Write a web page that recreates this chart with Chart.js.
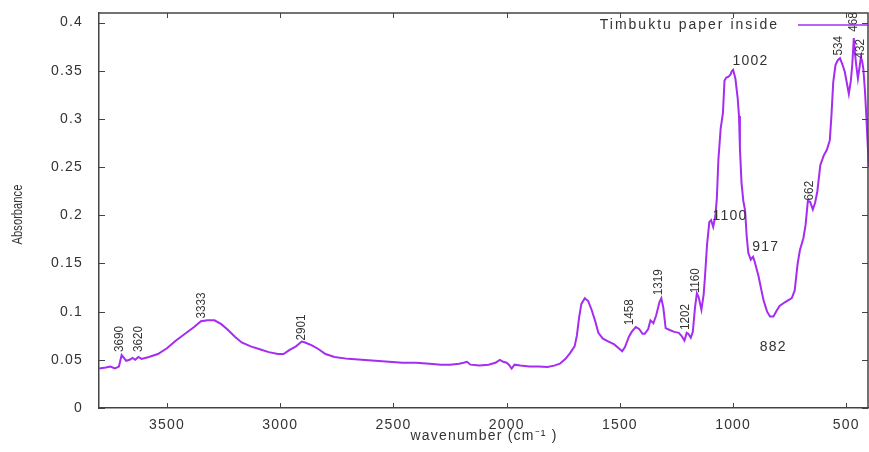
<!DOCTYPE html>
<html>
<head>
<meta charset="utf-8">
<script src="https://cdn.jsdelivr.net/npm/chart.js@4.4.1/dist/chart.umd.min.js"></script>
<style>
  html, body { margin: 0; padding: 0; background: #fff; }
  #wrap { width: 869px; height: 452px; }
</style>
</head>
<body>
<div id="wrap"><canvas id="chart"></canvas></div>
<script>
// spectrum (wavenumber cm-1 / absorbance)
const wavenumbers = [
  3800, 3770, 3750, 3730, 3712, 3700, 3690, 3680, 3665, 3652, 3640, 3626, 3612, 3580, 3540,
  3500, 3460, 3420, 3380, 3350, 3320, 3290, 3260, 3230, 3200, 3170, 3130, 3090, 3050, 3010,
  2985, 2960, 2930, 2905, 2890, 2860, 2830, 2800, 2760, 2700, 2640, 2580, 2520, 2460, 2400,
  2340, 2290, 2250, 2210, 2190, 2175, 2160, 2120, 2080, 2050, 2030, 2015, 2000, 1990, 1978,
  1965, 1940, 1900, 1860, 1820, 1790, 1765, 1740, 1720, 1700, 1690, 1680, 1670, 1655, 1640,
  1625, 1610, 1595, 1575, 1550, 1525, 1500, 1490, 1478, 1460, 1448, 1430, 1415, 1400, 1390,
  1375, 1365, 1352, 1340, 1325, 1317, 1308, 1298, 1280, 1260, 1240, 1228, 1215, 1205, 1198,
  1187, 1178, 1168, 1160, 1152, 1140, 1130, 1124, 1115, 1105, 1097, 1088, 1078, 1072, 1065,
  1055, 1045, 1038, 1030, 1020, 1012, 1005, 1000, 990, 980, 974, 970, 963, 955, 947,
  940, 933, 922, 912, 905, 888, 866, 850, 837, 822, 808, 795, 770, 741, 728,
  715, 705, 690, 680, 670, 660, 648, 638, 628, 615, 600, 586, 573, 566, 558,
  548, 538, 528, 518, 507, 496, 489, 480, 474, 467, 462, 456, 449, 441, 436,
  430, 425, 418, 412, 405, 400
];
const absorbance = [
  0.041, 0.042, 0.043, 0.041, 0.043, 0.055, 0.052, 0.049, 0.050, 0.052, 0.050, 0.053, 0.051, 0.053, 0.056,
  0.062, 0.070, 0.077, 0.084, 0.090, 0.091, 0.091, 0.087, 0.081, 0.074, 0.068, 0.064, 0.061, 0.058, 0.056,
  0.056, 0.060, 0.064, 0.069, 0.068, 0.065, 0.061, 0.056, 0.053, 0.051, 0.050, 0.049, 0.048, 0.047, 0.047,
  0.046, 0.045, 0.045, 0.046, 0.047, 0.048, 0.045, 0.044, 0.045, 0.047, 0.050, 0.048, 0.047, 0.045, 0.041,
  0.045, 0.044, 0.043, 0.043, 0.0425, 0.044, 0.046, 0.051, 0.057, 0.064, 0.075, 0.094, 0.108, 0.114, 0.111,
  0.102, 0.091, 0.078, 0.072, 0.069, 0.066, 0.061, 0.059, 0.063, 0.074, 0.079, 0.084, 0.082, 0.077, 0.077,
  0.082, 0.091, 0.088, 0.096, 0.110, 0.114, 0.104, 0.083, 0.081, 0.079, 0.078, 0.075, 0.070, 0.078, 0.077,
  0.073, 0.079, 0.105, 0.119, 0.115, 0.102, 0.118, 0.137, 0.170, 0.193, 0.195, 0.188, 0.200, 0.217, 0.258,
  0.290, 0.306, 0.340, 0.343, 0.344, 0.346, 0.350, 0.351, 0.342, 0.322, 0.303, 0.270, 0.234, 0.215, 0.205,
  0.178, 0.161, 0.154, 0.157, 0.152, 0.137, 0.112, 0.100, 0.095, 0.095, 0.101, 0.106, 0.110, 0.114, 0.122,
  0.150, 0.164, 0.176, 0.190, 0.215, 0.214, 0.206, 0.213, 0.225, 0.252, 0.262, 0.268, 0.278, 0.303, 0.338,
  0.356, 0.361, 0.363, 0.357, 0.349, 0.335, 0.326, 0.340, 0.356, 0.384, 0.368, 0.355, 0.342, 0.355, 0.364,
  0.360, 0.352, 0.330, 0.304, 0.270, 0.250
];

const xTicks = [3500, 3000, 2500, 2000, 1500, 1000, 500];
const yTicks = [0, 0.05, 0.1, 0.15, 0.2, 0.25, 0.3, 0.35, 0.4];

// peak annotations: text, anchor wavenumber, anchor absorbance, vertical?
const peakText = ['3690', '3620', '3333', '2901', '1458', '1319', '1202', '1160', '662', '534', '468', '432', '1002', '1100', '917', '882'];
const peakAtX = [3709, 3627, 3349, 2908, 1458, 1330, 1212, 1165, 664, 533, 469, 440, 1003, 1091, 915, 882];
const peakAtY = [0.058, 0.058, 0.093, 0.070, 0.086, 0.117, 0.081, 0.119, 0.2155, 0.366, 0.3906, 0.3627, 0.360, 0.199, 0.167, 0.063];
const peakVertical = [true, true, true, true, true, true, true, true, true, true, true, true, false, false, false, false];

const seriesName = 'Timbuktu paper inside';
const yTitle = 'Absorbance';

const LINE = '#a52cf0';
const INK = '#333333';
const AXIS = '#444444';
const FONT = "'Liberation Sans', Arial, sans-serif";

const spacing = {
  id: 'spacing',
  beforeLayout(chart) { chart.ctx.letterSpacing = '1.2px'; },
  beforeDraw(chart) { chart.ctx.letterSpacing = '1.2px'; }
};

const frame = {
  id: 'frame',
  afterDatasetsDraw(chart) {
    const { ctx, chartArea: a, scales: { x, y } } = chart;
    ctx.save();
    ctx.strokeStyle = AXIS;
    ctx.lineWidth = 1.5;
    ctx.beginPath();
    ctx.moveTo(a.left, a.top);
    ctx.lineTo(a.right - 1, a.top);
    ctx.lineTo(a.right - 1, a.bottom);
    ctx.stroke();
    ctx.lineWidth = 1;
    ctx.beginPath();
    xTicks.forEach(v => {
      const px = Math.round(x.getPixelForValue(v)) + 0.5;
      ctx.moveTo(px, a.bottom); ctx.lineTo(px, a.bottom - 5);
      ctx.moveTo(px, a.top); ctx.lineTo(px, a.top + 5);
    });
    yTicks.forEach(v => {
      const py = Math.round(y.getPixelForValue(v)) + 0.5;
      ctx.moveTo(a.left, py); ctx.lineTo(a.left + 6, py);
      ctx.moveTo(a.right - 1, py); ctx.lineTo(a.right - 7, py);
    });
    ctx.stroke();

    // y title, condensed like the original
    ctx.fillStyle = INK;
    ctx.font = '14px ' + FONT;
    ctx.letterSpacing = '0px';
    ctx.translate(18, (a.top + a.bottom) / 2 + 4);
    ctx.rotate(-Math.PI / 2);
    ctx.scale(0.8, 1);
    ctx.textAlign = 'center';
    ctx.textBaseline = 'middle';
    ctx.fillText(yTitle, 0, 0);
    ctx.restore();
  }
};

const peaks = {
  id: 'peaks',
  afterDatasetsDraw(chart) {
    const { ctx, scales: { x, y } } = chart;
    ctx.save();
    ctx.fillStyle = INK;
    peakText.forEach((t, i) => {
      const px = x.getPixelForValue(peakAtX[i]);
      const py = y.getPixelForValue(peakAtY[i]);
      if (peakVertical[i]) {
        ctx.save();
        ctx.translate(px, py);
        ctx.rotate(-Math.PI / 2);
        ctx.scale(0.9, 1);
        ctx.font = '13px ' + FONT;
        ctx.letterSpacing = '0px';
        ctx.textAlign = 'left';
        ctx.textBaseline = 'middle';
        ctx.fillText(t, 0, 0);
        ctx.restore();
      } else {
        ctx.font = '14px ' + FONT;
        ctx.letterSpacing = '1.2px';
        ctx.textAlign = 'left';
        ctx.textBaseline = 'middle';
        ctx.fillText(t, px, py);
      }
    });
    ctx.restore();
  }
};

const legendBox = {
  id: 'legendBox',
  afterDatasetsDraw(chart) {
    const { ctx, chartArea: a } = chart;
    ctx.save();
    ctx.font = '14px ' + FONT;
    ctx.letterSpacing = '2px';
    ctx.fillStyle = INK;
    ctx.textAlign = 'right';
    ctx.textBaseline = 'middle';
    ctx.fillText(seriesName, a.right - 90, a.top + 12);
    ctx.strokeStyle = LINE;
    ctx.lineWidth = 1.5;
    ctx.beginPath();
    ctx.moveTo(a.right - 71, a.top + 12);
    ctx.lineTo(a.right, a.top + 12);
    ctx.stroke();
    ctx.restore();
  }
};

new Chart(document.getElementById('chart'), {
  type: 'line',
  data: {
    datasets: [{
      label: seriesName,
      data: wavenumbers.map((w, i) => ({ x: w, y: absorbance[i] })),
      borderColor: LINE,
      borderWidth: 2,
      pointRadius: 0,
      tension: 0,
      fill: false
    }]
  },
  options: {
    responsive: true,
    maintainAspectRatio: false,
    animation: false,
    layout: { padding: { top: 13, right: 0, left: 0, bottom: 0 } },
    plugins: { legend: { display: false }, tooltip: { enabled: false } },
    scales: {
      x: {
        type: 'linear',
        reverse: true,
        min: 400,
        max: 3800,
        afterBuildTicks: axis => { axis.ticks = xTicks.map(v => ({ value: v })); },
        afterFit: axis => { axis.height = 44; axis.paddingLeft = 0; axis.paddingRight = 0; },
        grid: { display: false, drawTicks: false },
        border: { display: true, color: AXIS, width: 1.5 },
        ticks: { color: INK, font: { family: FONT, size: 14 }, padding: 9, maxRotation: 0, autoSkip: false, callback: v => String(v) },
        title: { display: true, text: 'wavenumber (cm⁻¹ )', color: INK, font: { family: FONT, size: 14 }, padding: { top: 0, bottom: 7 } }
      },
      y: {
        min: 0,
        max: 0.41,
        afterBuildTicks: axis => { axis.ticks = yTicks.map(v => ({ value: v })); },
        afterFit: axis => { axis.width = 99; axis.paddingTop = 0; axis.paddingBottom = 0; },
        grid: { display: false, drawTicks: false },
        border: { display: true, color: AXIS, width: 1.5 },
        ticks: { color: INK, font: { family: FONT, size: 14 }, padding: 16, callback: v => String(+v.toFixed(2)) }
      }
    }
  },
  plugins: [spacing, frame, peaks, legendBox]
});
</script>
</body>
</html>
